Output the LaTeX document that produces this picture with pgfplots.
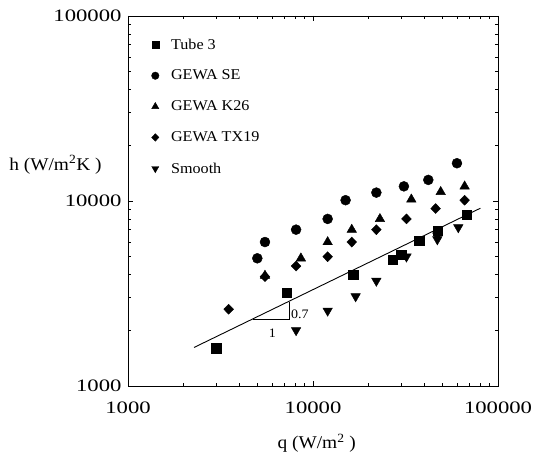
\documentclass[border=0pt]{standalone}
\usepackage{pgfplots}
\pgfplotsset{compat=1.18}
\usepackage{fontspec}
\setmainfont{Liberation Serif}
\newfontfamily\tickfont{Liberation Serif}[FakeStretch=1.3]
\newfontfamily\labfont{Liberation Serif}[FakeStretch=1.08]
\begin{document}
\begin{tikzpicture}
\begin{axis}[
  xmode=log, ymode=log,
  scale only axis, width=370bp, height=370bp,
  xmin=1000, xmax=100000, ymin=1000, ymax=100000,
  xtick={1000,10000,100000}, ytick={1000,10000,100000},
  xticklabels={1000,10000,100000}, yticklabels={1000,10000,100000},
  minor xtick={}, minor ytick={},
  tick align=inside, major tick length=5bp,
  ticklabel style={font=\tickfont\fontsize{17.5}{17.5}\selectfont},
  xticklabel style={yshift=-12bp},
  yticklabel style={xshift=-3bp},
  axis line style={line width=0.8pt},
  every tick/.style={black, line width=0.6pt},
  xlabel={q (W/m\textsuperscript{2} )},
  ylabel={h (W/m\textsuperscript{2}K )},
  label style={font=\labfont\fontsize{18}{18}\selectfont},
  xlabel style={at={(0.51,-0.155)}, anchor=center},
  ylabel style={rotate=-90, at={(-0.196,0.598)}, anchor=center},
  legend style={at={(0.055,0.95)}, anchor=north west, draw=none, fill=none,
    font=\labfont\fontsize{15}{15}\selectfont, row sep=15.5bp,
    cells={anchor=west}},
  legend image code/.code={\draw[mark repeat=2,mark phase=2,#1,every mark/.append style={scale=0.75}] plot coordinates {(0cm,0cm) (0.12cm,0cm) (0.24cm,0cm)}; \path (0cm,0cm) (0.6cm,0cm);},
  legend cell align=left,
  clip=false,
]
\addplot[only marks, mark=square*, mark size=4.6bp, black] coordinates {
(3000,1600) (7200,3200) (16500,4000) (27000,4800) (30000,5100) (37500,6100) (47000,6900) (68000,8400)};
\addlegendentry{Tube 3}
\addplot[only marks, mark=*, mark size=5bp, black] coordinates {
(5000,4900) (5500,6000) (8100,7000) (12000,8000) (15000,10100) (22000,11100) (31000,12000) (42000,13000) (60000,16000)};
\addlegendentry{GEWA SE}
\addplot[only marks, mark=triangle*, mark size=5.5bp, black] coordinates {
(5500,3950) (8600,4900) (12000,6000) (16200,7000) (23000,8000) (34000,10200) (49000,11200) (66000,12000)};
\addlegendentry{GEWA K26}
\addplot[only marks, mark=diamond*, mark size=5bp, mark options={xscale=1.3}, black] coordinates {
(3500,2600) (5500,3900) (8100,4450) (12000,5000) (16200,6000) (22000,7000) (32000,8000) (46000,9100) (66000,10100)};
\addlegendentry{GEWA TX19}
\addplot[only marks, mark=triangle*, mark size=5.5bp, mark options={rotate=180}, black] coordinates {
(8100,2000) (12000,2550) (17000,3050) (22000,3700) (32000,5000) (47000,6200) (47000,6500) (61000,7200)};
\addlegendentry{Smooth}
\addplot[black, line width=0.9pt, forget plot] coordinates {(2274,1615) (80300,9140)};
\addplot[black, line width=0.5pt, forget plot] coordinates {(4720,2300) (7430,2300) (7430,2860)};
\node[font=\labfont\fontsize{13}{13}\selectfont] at (axis cs:8500,2440) {0.7};
\node[font=\labfont\fontsize{13}{13}\selectfont] at (axis cs:6030,1928) {1};
\coordinate (O) at (rel axis cs:0,0);
\end{axis}
\pgfresetboundingbox
\path (O) ++(-128bp,-73bp) rectangle ++(538bp,459bp);
\end{tikzpicture}
\end{document}
